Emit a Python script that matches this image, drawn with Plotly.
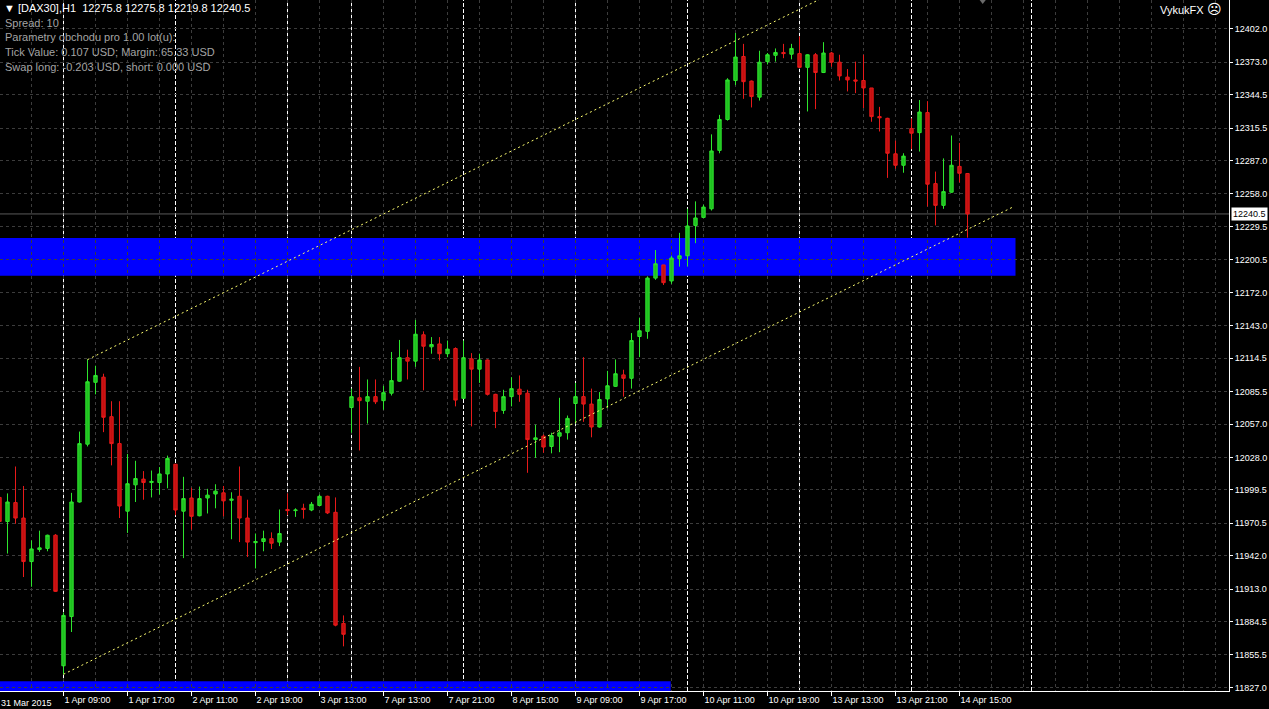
import plotly.graph_objects as go

# ---------------- data ----------------
symbol = "[DAX30],H1"
bar_index = list(range(122))

opens = [11993, 11972, 11988.5, 11975, 11937, 11947.5, 11948.5, 11960, 11846, 11889,
         11989, 12039.5, 12093.5, 12098, 12063.5, 12040, 11981, 12004, 12009, 12006,
         12006, 12013.5, 12022, 11981, 11992.5, 11977, 11992.5, 11996, 11997, 11990.5,
         11994, 11975, 11953.5, 11954.5, 11957, 11954, 11982.5, 11981.5, 11983.5, 11982,
         11986, 11994, 11980, 11883, 12071.5, 12080, 12077, 12081, 12077.5, 12084,
         12094.5, 12115, 12112, 12135, 12124.5, 12127, 12118.5, 12123, 12079.5, 12114,
         12105, 12113, 12083, 12069, 12081, 12087.5, 12084, 12043.5, 12046.5, 12037.5,
         12046.5, 12049.5, 12075, 12081, 12074.5, 12054.5, 12079, 12090, 12100, 12097,
         12133.5, 12138, 12184.5, 12196, 12182, 12201.5, 12204, 12230.5, 12237.5, 12245,
         12296, 12323, 12357, 12378, 12356.5, 12342.5, 12373.5, 12379, 12381.5, 12380,
         12380.5, 12368.5, 12379.5, 12364, 12381, 12373, 12360, 12357.5, 12357, 12350.5,
         12325.5, 12324, 12293, 12283, 12315, 12311.5, 12329, 12267, 12248, 12259.5,
         12282, 12275.8]
highs = [12000, 11996.5, 12020, 12003, 11955.5, 11964, 11960.5, 11961, 11892.5, 11997,
         12050.5, 12113.5, 12108, 12101, 12077, 12077, 12031, 12025, 12016, 12016.5,
         12019.5, 12029.5, 12022, 12011, 12001.5, 12002.5, 12000.5, 12004.5, 12003, 11997.5,
         12020, 11991, 11961.5, 11964, 11962.5, 11982.5, 11996.5, 11983.5, 11987.5, 11989,
         11995.5, 11994.5, 11993, 11890, 12088, 12107, 12096, 12096, 12090.5, 12120,
         12130.5, 12122, 12148, 12138, 12133, 12133, 12130, 12124, 12130, 12119,
         12118.5, 12113.5, 12083.5, 12087, 12098, 12099.5, 12087, 12056.5, 12048, 12049.5,
         12080, 12064.5, 12093, 12115.5, 12088, 12085, 12103.5, 12113.5, 12104.5, 12136.5,
         12150, 12186, 12209, 12196, 12204, 12224, 12245, 12251.5, 12248.5, 12310,
         12327, 12359, 12398.5, 12389, 12357, 12383, 12381, 12385, 12389, 12389,
         12395.5, 12380, 12381, 12390.5, 12382, 12379.5, 12367, 12373.5, 12379.5, 12350.5,
         12334, 12324.5, 12304.5, 12293.5, 12324, 12340, 12339, 12277.5, 12289, 12309,
         12302.5, 12275.8]
lows = [11972, 11944, 11970, 11923.5, 11915, 11945.5, 11946, 11910.5, 11838.5, 11875.5,
        11988.5, 12037.5, 12083, 12050, 12021, 11975, 11962, 11989, 11991, 11993,
        11995.5, 12001, 11977.5, 11940, 11965, 11976.5, 11979, 11983.5, 11976.5, 11956.5,
        11954, 11941, 11931, 11946, 11948, 11950.5, 11977.5, 11976, 11974.5, 11981,
        11985.5, 11978.5, 11880.5, 11863, 12049.5, 12034, 12057.5, 12074.5, 12069.5, 12082,
        12094, 12096, 12107, 12086.5, 12118.5, 12112.5, 12115.5, 12072.5, 12079, 12055,
        12093, 12082, 12053.5, 12066, 12072.5, 12076.5, 12014.5, 12027.5, 12032, 12031.5,
        12032.5, 12043.5, 12057.5, 12059, 12045.5, 12054, 12071, 12089.5, 12081, 12088,
        12115.5, 12131.5, 12183, 12178.5, 12179.5, 12194.5, 12194.5, 12215, 12237, 12243.5,
        12293.5, 12322, 12353, 12341, 12333.5, 12339.5, 12371, 12373.5, 12376.5, 12375.5,
        12368.5, 12330, 12332, 12363.5, 12369, 12357, 12347.5, 12346, 12333, 12321,
        12312.5, 12272, 12280, 12276.5, 12297, 12295, 12247, 12230.5, 12245, 12259,
        12268, 12219.8]
closes = [11972, 11989, 11975, 11937, 11948, 11949, 11960, 11911, 11890, 11989,
          12040, 12094, 12099.5, 12063, 12040, 11985.5, 12005, 12009.5, 12006, 12007,
          12013.5, 12027, 11982, 11992, 11976.5, 11992, 11995, 11998.5, 11990, 11991.5,
          11975, 11954, 11954.5, 11957, 11953, 11961.5, 11981.5, 11982, 11982.5, 11987,
          11994, 11979.5, 11881.5, 11873.5, 12081, 12077.5, 12081, 12076.5, 12084.5, 12095,
          12115, 12112, 12135.5, 12125, 12126.5, 12118.5, 12122.5, 12078, 12115, 12105,
          12113, 12083, 12068, 12081, 12088, 12083, 12043.5, 12045, 12037, 12047,
          12049.5, 12062, 12081, 12074.5, 12054.5, 12078.5, 12090.5, 12101, 12097, 12130,
          12138.5, 12184.5, 12197, 12180.5, 12202, 12204, 12230, 12237, 12246.5, 12295.5,
          12323, 12357.5, 12377.5, 12356, 12343, 12373, 12379.5, 12381.5, 12380.5, 12385,
          12368.5, 12379.5, 12364, 12381, 12373, 12361, 12357.5, 12356.5, 12350.5, 12325.5,
          12324.5, 12293.5, 12283, 12291, 12311, 12329.5, 12266.5, 12248, 12260, 12283,
          12276, 12240.5]

time_tick_bars = [8, 16, 24, 32, 40, 48, 56, 64, 72, 80, 88, 96, 104, 112, 120]
time_tick_labels = ["1 Apr 09:00", "1 Apr 17:00", "2 Apr 11:00", "2 Apr 19:00",
                    "3 Apr 13:00", "7 Apr 13:00", "7 Apr 21:00", "8 Apr 15:00",
                    "9 Apr 09:00", "9 Apr 17:00", "10 Apr 11:00", "10 Apr 19:00",
                    "13 Apr 13:00", "13 Apr 21:00", "14 Apr 15:00"]
first_date_label = "31 Mar 2015"

price_ticks = [12402.0, 12373.0, 12344.5, 12315.5, 12287.0, 12258.0, 12229.5,
               12200.5, 12172.0, 12143.0, 12114.5, 12085.5, 12057.0, 12028.0,
               11999.5, 11970.5, 11942.0, 11913.0, 11884.5, 11855.5, 11827.0]

day_separator_bars = [8, 22, 36, 44, 58, 72, 86, 100, 114, 129]

zone_upper_bars = [-2, 127]
zone_upper_prices = [12186.6, 12219.5]
zone_lower_bars = [-2, 83.9]
zone_lower_prices = [11810.0, 11832.5]

channel_base_bars = [8, 126.75]
channel_base_prices = [11838.6, 12246.8]
channel_parallel_bar = 11
channel_parallel_price = 12113.3

shift_marker_bar = 122.9

info_lines = ["Spread: 10",
              "Parametry obchodu pro 1.00 lot(u):",
              "Tick Value: 0.107 USD; Margin: 65.33 USD",
              "Swap long: -0.203 USD, short: 0.000 USD"]
broker_name = "VykukFX"
broker_icon = "\u2639"

# ---------------- layout constants ----------------
Y_MIN, Y_MAX = 11824.0, 12427.3
X_MIN = 0.0625
X_MAX = X_MIN + 1229 / 8.0
PLOT_H = 691.0
FONT = "Liberation Sans, Arial, sans-serif"
GRID = "#3c3c3c"

fig = go.Figure()

fig.add_trace(go.Candlestick(
    x=bar_index, open=opens, high=highs, low=lows, close=closes,
    increasing=dict(line=dict(color="#2ee62e", width=1), fillcolor="#1fbf1f"),
    decreasing=dict(line=dict(color="#e81a1a", width=1), fillcolor="#c21010"),
    whiskerwidth=0, hoverinfo="skip", showlegend=False,
))

# small grey shift marker at top edge
fig.add_trace(go.Scatter(
    x=[shift_marker_bar], y=[Y_MAX + 0.9], mode="markers",
    marker=dict(symbol="triangle-down", size=10, color="#6a6a6a"),
    hoverinfo="skip", showlegend=False,
))

shapes = []
# blue zones (below grid)
shapes.append(dict(type="rect", xref="x", yref="y",
                   x0=zone_upper_bars[0], x1=zone_upper_bars[1],
                   y0=zone_upper_prices[0], y1=zone_upper_prices[1],
                   fillcolor="#0000ff", line=dict(width=0), layer="below"))
shapes.append(dict(type="rect", xref="x", yref="y",
                   x0=zone_lower_bars[0], x1=zone_lower_bars[1],
                   y0=zone_lower_prices[0], y1=zone_lower_prices[1],
                   fillcolor="#0000ff", line=dict(width=0), layer="below"))
# day separators
for b in day_separator_bars:
    shapes.append(dict(type="line", xref="x", yref="paper", x0=b, x1=b, y0=0, y1=1,
                       line=dict(color="#ffffff", width=1, dash="4px,2px"), layer="below"))
# current price line
shapes.append(dict(type="line", xref="paper", yref="y", x0=0, x1=1,
                   y0=closes[-1], y1=closes[-1],
                   line=dict(color="#5a5a5a", width=1), layer="between"))
# equidistant channel
slope = (channel_base_prices[1] - channel_base_prices[0]) / (channel_base_bars[1] - channel_base_bars[0])
shapes.append(dict(type="line", xref="x", yref="y",
                   x0=channel_base_bars[0], y0=channel_base_prices[0],
                   x1=channel_base_bars[1], y1=channel_base_prices[1],
                   line=dict(color="#ffff70", width=1, dash="2px,3px"), layer="above"))
shapes.append(dict(type="line", xref="x", yref="y",
                   x0=channel_parallel_bar, y0=channel_parallel_price,
                   x1=channel_base_bars[1],
                   y1=channel_parallel_price + slope * (channel_base_bars[1] - channel_parallel_bar),
                   line=dict(color="#ffff70", width=1, dash="2px,3px"), layer="above"))


def py(px):
    return 1 - px / PLOT_H


annotations = []
header = "\u25bc " + symbol + "\u00a0\u00a0" + " ".join(
    f"{v:.1f}" for v in (opens[-1], highs[-1], lows[-1], closes[-1]))
annotations.append(dict(xref="paper", yref="paper", x=0, y=py(7.5), xshift=2,
                        xanchor="left", yanchor="middle", showarrow=False,
                        text=header, font=dict(family=FONT, size=11, color="#ffffff")))
for i, line in enumerate(info_lines):
    annotations.append(dict(xref="paper", yref="paper", x=0, y=py(22.5 + 14.8 * i), xshift=3,
                            xanchor="left", yanchor="middle", showarrow=False,
                            text=line, font=dict(family=FONT, size=11, color="#a4a4a4")))
annotations.append(dict(xref="paper", yref="paper", x=1, y=py(9), xshift=-5,
                        xanchor="right", yanchor="middle", showarrow=False,
                        text=broker_name + " <span style='font-size:14px'>" + broker_icon + "</span>",
                        font=dict(family=FONT, size=11, color="#ffffff")))
annotations.append(dict(xref="paper", yref="y", x=1, y=closes[-1], xshift=2,
                        xanchor="left", yanchor="middle", showarrow=False,
                        text=f"{closes[-1]:.1f}", bgcolor="#ffffff", borderpad=1,
                        font=dict(family=FONT, size=9, color="#000000")))
annotations.append(dict(xref="paper", yref="paper", x=0, y=0, xshift=-1, yshift=-5,
                        xanchor="left", yanchor="top", showarrow=False,
                        text=first_date_label, font=dict(family=FONT, size=9, color="#ffffff")))

fig.update_layout(
    width=1269, height=709,
    margin=dict(l=0, r=40, t=0, b=18, pad=0),
    paper_bgcolor="#000000", plot_bgcolor="#000000",
    showlegend=False, boxgap=0.4,
    shapes=shapes, annotations=annotations,
    xaxis=dict(
        range=[X_MIN, X_MAX], tickmode="array", tickvals=time_tick_bars, ticktext=time_tick_labels,
        ticks="outside", ticklen=4, tickcolor="#ffffff", tickwidth=1,
        ticklabelposition="outside right",
        tickfont=dict(family=FONT, size=9, color="#ffffff"),
        showline=True, linecolor="#ffffff", linewidth=1,
        showgrid=True, gridcolor=GRID, gridwidth=1, griddash="3px,3px",
        minor=dict(tickmode="linear", tick0=0, dtick=4, showgrid=True, gridcolor=GRID,
                   gridwidth=1, griddash="3px,3px", ticks=""),
        zeroline=False, rangeslider=dict(visible=False), fixedrange=True,
    ),
    yaxis=dict(
        range=[Y_MIN, Y_MAX], side="right", tickmode="array", tickvals=price_ticks,
        ticktext=[f"{p:.1f}" for p in price_ticks],
        ticks="outside", ticklen=3, tickcolor="#ffffff",
        tickfont=dict(family=FONT, size=9, color="#ffffff"),
        showline=True, linecolor="#ffffff", linewidth=1,
        showgrid=True, gridcolor=GRID, gridwidth=1, griddash="3px,3px",
        zeroline=False, fixedrange=True,
    ),
)

fig.write_html("out.html",
               config={"displayModeBar": False},
               post_script="document.body.style.margin='0px';"
                           "document.body.style.overflow='hidden';"
                           "document.body.style.background='#000000';")
